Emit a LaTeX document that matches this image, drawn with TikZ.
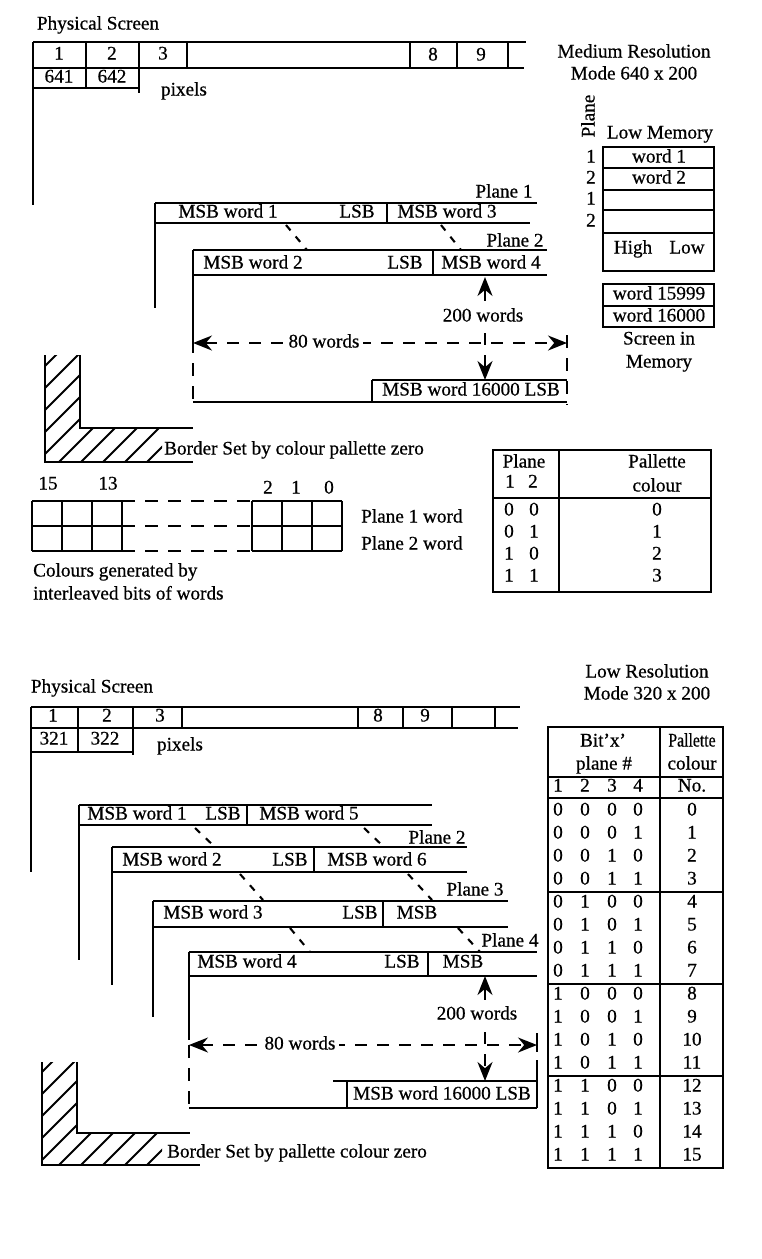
\documentclass[tikz,border=0pt]{standalone}
\usepackage{fontspec}
\setmainfont{Liberation Serif}[FakeBold=0.6]
\usetikzlibrary{arrows.meta}
\begin{document}
\begin{tikzpicture}[x=1pt,y=-1pt,
  every node/.style={inner sep=0pt, font=\fontsize{19.2}{22}\selectfont, text height=13pt, text depth=4pt},
  ln/.style={line width=2.4pt},
  tl/.style={line width=2pt},
  dg/.style={line width=2.1pt, dash pattern=on 7pt off 8pt},
  dl/.style={line width=2pt, dash pattern=on 13pt off 10pt},
  arr/.style={line width=2pt, dash pattern=on 12pt off 10pt, {Stealth[length=19pt,width=15pt]}-{Stealth[length=19pt,width=15pt]}},
  hatch/.style={line width=1.9pt},
  lbl/.style={fill=white, inner xsep=4pt},
]
\useasboundingbox (0,0) rectangle (761,1259);
\fill[white] (0,0) rectangle (761,1259);

% ================= TOP: MEDIUM RESOLUTION =================
\node (psA) at (98,25) {Physical Screen};
\draw[ln] (33,42) -- (526,42);
\draw[ln] (33,68) -- (524,68);
\draw[ln] (33,88) -- (139,88);
\draw[ln] (33,42) -- (33,205);
\draw[ln] (86,42) -- (86,88);
\draw[ln] (139,42) -- (139,93);
\foreach \x in {187,410,457,508} \draw[ln] (\x,42) -- (\x,68);
\node (pa1) at (59,55) {1};
\node (pa2) at (112,55) {2};
\node (pa3) at (163,55) {3};
\node (pa8) at (433,56) {8};
\node (pa9) at (481,56) {9};
\node (pa641) at (59,78) {641};
\node (pa642) at (112,78) {642};
\node (pixA) at (184,91) {pixels};

\node (medres) at (634,53) {Medium Resolution};
\node (medmode) at (634,75) {Mode 640 x 200};
\node[rotate=90] (planeV) at (590,116) {Plane};
\node (lowmem) at (660,134) {Low Memory};
\draw[tl] (603,147) rectangle (714,271);
\foreach \y in {168,190,210,233} \draw[tl] (603,\y) -- (714,\y);
\node (mw1) at (659,158) {word 1};
\node (mw2) at (659,179) {word 2};
\node (mp1) at (591,158) {1};
\node (mp2) at (591,179) {2};
\node (mp3) at (591,200) {1};
\node (mp4) at (591,222) {2};
\node (mhigh) at (633,249) {High};
\node (mlow) at (687,249) {Low};
\draw[tl] (603,284) rectangle (714,327);
\draw[tl] (603,306) -- (714,306);
\node (mw15999) at (659,295) {word 15999};
\node (mw16000) at (659,317) {word 16000};
\node (scrin) at (659,340) {Screen in};
\node (scrmem) at (659,363) {Memory};

% planes
\node (plA1) at (504,193) {Plane 1};
\draw[ln] (155,203) -- (537,203);
\draw[ln] (155,223) -- (530,223);
\draw[ln] (155,203) -- (155,308);
\draw[ln] (387,203) -- (387,223);
\node (aw1) at (228,213) {MSB word 1};
\node (al1) at (357,213) {LSB};
\node (aw3) at (447,213) {MSB word 3};
\draw[dg] (286,225) -- (307,250);
\draw[dg] (441,225) -- (461,250);

\node (plA2) at (515,242) {Plane 2};
\draw[ln] (193,250) -- (547,250);
\draw[ln] (193,275) -- (547,275);
\draw[ln] (433,250) -- (433,275);
\node (aw2) at (253,264) {MSB word 2};
\node (al2) at (405,264) {LSB};
\node (aw4) at (491,264) {MSB word 4};
\draw[ln] (193,250) -- (193,340);
\draw[dl] (193,340) -- (193,402);
\draw[ln] (193,402) -- (567,402);
\draw[ln] (372,380) -- (567,380);
\draw[ln] (372,380) -- (372,402);
\draw[dl] (567,335) -- (567,405);
\node (aw16000) at (471,391) {MSB word 16000 LSB};
\coordinate (ahl) at (193,343);
\coordinate (ahr) at (567,343);
\draw[arr] (ahl) -- (ahr);
\node[lbl] (a80) at (324,343) {80 words};
\coordinate (avt) at (485,277);
\coordinate (avb) at (485,380);
\draw[arr] (avt) -- (avb);
\node[lbl] (a200) at (483,317) {200 words};

% hatched border
\begin{scope}
\clip (45,355) -- (45,462) -- (162,462) -- (162,428) -- (80,428) -- (80,355) -- cycle;
\foreach \s in {-95,-73,...,200} \draw[hatch] (\s,462) -- ++(120,-120);
\end{scope}
\draw[ln] (45,355) -- (45,462) -- (193,462);
\draw[ln] (80,355) -- (80,428) -- (193,428);
\node[anchor=west] (bordA) at (164,450) {Border Set by colour pallette zero};

% bit grid
\foreach \x in {32,62,92,122} \draw[ln] (\x,501) -- (\x,551);
\foreach \x in {252,282,312,342} \draw[ln] (\x,501) -- (\x,551);
\foreach \y in {501,526,551} {
  \draw[ln] (32,\y) -- (122,\y);
  \draw[ln] (252,\y) -- (342,\y);
  \draw[dl] (122,\y) -- (252,\y);
}
\node (b15) at (48,485) {15};
\node (b13) at (108,485) {13};
\node (b2) at (268,489) {2};
\node (b1) at (296,489) {1};
\node (b0) at (329,489) {0};
\node[anchor=west] (p1w) at (361,518) {Plane 1 word};
\node[anchor=west] (p2w) at (361,545) {Plane 2 word};
\node[anchor=west] (cg1) at (33,572) {Colours generated by};
\node[anchor=west] (cg2) at (33,595) {interleaved bits of words};

% palette table (medium)
\draw[tl] (493,450) rectangle (711,592);
\draw[tl] (559,450) -- (559,592);
\draw[tl] (493,498) -- (711,498);
\node (tpl) at (524,463) {Plane};
\node (tp1) at (510,483) {1};
\node (tp2) at (533,483) {2};
\node (tpal) at (657,463) {Pallette};
\node (tcol) at (657,487) {colour};
\foreach \a/\b/\v [count=\i from 0] in {0/0/0,0/1/1,1/0/2,1/1/3} {
  \node (ta\i) at (509,511+22*\i) {\a};
  \node (tb\i) at (534,511+22*\i) {\b};
  \node (tv\i) at (657,511+22*\i) {\v};
}

% ================= BOTTOM: LOW RESOLUTION =================
\node (psB) at (92,688) {Physical Screen};
\draw[ln] (31,707) -- (520,707);
\draw[ln] (31,728) -- (518,728);
\draw[ln] (31,752) -- (133,752);
\draw[ln] (31,707) -- (31,872);
\draw[ln] (78,707) -- (78,752);
\draw[ln] (133,707) -- (133,755);
\foreach \x in {182,358,403,452,495} \draw[ln] (\x,707) -- (\x,728);
\node (pb1) at (53,717) {1};
\node (pb2) at (107,717) {2};
\node (pb3) at (160,717) {3};
\node (pb8) at (378,717) {8};
\node (pb9) at (425,717) {9};
\node (pb321) at (54,740) {321};
\node (pb322) at (105,740) {322};
\node (pixB) at (180,746) {pixels};

\node (lowres) at (647,673) {Low Resolution};
\node (lowmode) at (647,695) {Mode 320 x 200};

% plane 1
\draw[ln] (79,805) -- (432,805);
\draw[ln] (79,825) -- (432,825);
\draw[ln] (247,805) -- (247,825);
\draw[ln] (79,805) -- (79,960);
\node (bw1) at (137,815) {MSB word 1};
\node (bl1) at (223,815) {LSB};
\node (bw5) at (309,815) {MSB word 5};
\draw[dg] (195,828) -- (215,847);
\draw[dg] (364,828) -- (384,847);
% plane 2
\node (plB2) at (437,839) {Plane 2};
\draw[ln] (112,847) -- (467,847);
\draw[ln] (112,872) -- (467,872);
\draw[ln] (314,847) -- (314,872);
\draw[ln] (112,847) -- (112,985);
\node (bw2) at (172,861) {MSB word 2};
\node (bl2) at (290,861) {LSB};
\node (bw6) at (377,861) {MSB word 6};
\draw[dg] (240,874) -- (263,900);
\draw[dg] (408,874) -- (432,900);
% plane 3
\node (plB3) at (475,891) {Plane 3};
\draw[ln] (153,901) -- (508,901);
\draw[ln] (153,927) -- (508,927);
\draw[ln] (383,901) -- (383,927);
\draw[ln] (153,901) -- (153,1017);
\node (bw3) at (213,914) {MSB word 3};
\node (bl3) at (360,914) {LSB};
\node (bm3) at (417,914) {MSB};
\draw[dg] (290,928) -- (310,952);
\draw[dg] (458,928) -- (480,952);
% plane 4
\node (plB4) at (510,942) {Plane 4};
\draw[ln] (189,952) -- (537,952);
\draw[ln] (189,976) -- (537,976);
\draw[ln] (428,952) -- (428,976);
\node (bw4) at (247,963) {MSB word 4};
\node (bl4) at (402,963) {LSB};
\node (bm4) at (463,963) {MSB};
\draw[ln] (189,952) -- (189,1040);
\draw[dl] (189,1045) -- (189,1108);
\draw[ln] (189,1108) -- (537,1108);
\draw[ln] (333,1081) -- (537,1081);
\draw[ln] (347,1081) -- (347,1108);
\draw[ln] (537,1060) -- (537,1108);
\draw[ln] (537,1033) -- (537,1052);
\node (bw16000) at (442,1095) {MSB word 16000 LSB};
\coordinate (bhl) at (189,1045);
\coordinate (bhr) at (537,1045);
\draw[arr] (bhl) -- (bhr);
\node[lbl] (b80) at (300,1045) {80 words};
\coordinate (bvt) at (485,976);
\coordinate (bvb) at (485,1081);
\draw[arr] (bvt) -- (bvb);
\node[lbl] (b200) at (477,1015) {200 words};

% hatched border bottom
\begin{scope}
\clip (42,1062) -- (42,1165) -- (162,1165) -- (162,1133) -- (77,1133) -- (77,1062) -- cycle;
\foreach \s in {-95,-73,...,210} \draw[hatch] (\s,1165) -- ++(120,-120);
\end{scope}
\draw[ln] (42,1062) -- (42,1165) -- (200,1165);
\draw[ln] (77,1062) -- (77,1133) -- (190,1133);
\node[anchor=west] (bordB) at (167,1153) {Border Set by pallette colour zero};

% palette table (low)
\draw[tl] (548,727) rectangle (723,1168);
\draw[tl] (660,727) -- (660,1168);
\foreach \y in {777,798,892,984,1076} \draw[tl] (548,\y) -- (723,\y);
\node (hbit) at (603,742) {Bit’x’};
\node (hplane) at (604,765) {plane \#};
\node[xscale=0.82] (hpal) at (692,742) {Pallette};
\node (hcol) at (692,765) {colour};
\node (hno) at (692,787) {No.};
\foreach \c/\x in {1/558,2/585,3/612,4/638} \node (hc\c) at (\x,787) {\c};
\foreach \a/\b/\c/\d [count=\i from 0] in {0/0/0/0,0/0/0/1,0/0/1/0,0/0/1/1,0/1/0/0,0/1/0/1,0/1/1/0,0/1/1/1,1/0/0/0,1/0/0/1,1/0/1/0,1/0/1/1,1/1/0/0,1/1/0/1,1/1/1/0,1/1/1/1} {
  \node (ra\i) at (558,811+23*\i) {\a};
  \node (rb\i) at (585,811+23*\i) {\b};
  \node (rc\i) at (612,811+23*\i) {\c};
  \node (rd\i) at (638,811+23*\i) {\d};
  \node (rv\i) at (692,811+23*\i) {\i};
}
\end{tikzpicture}
\end{document}
